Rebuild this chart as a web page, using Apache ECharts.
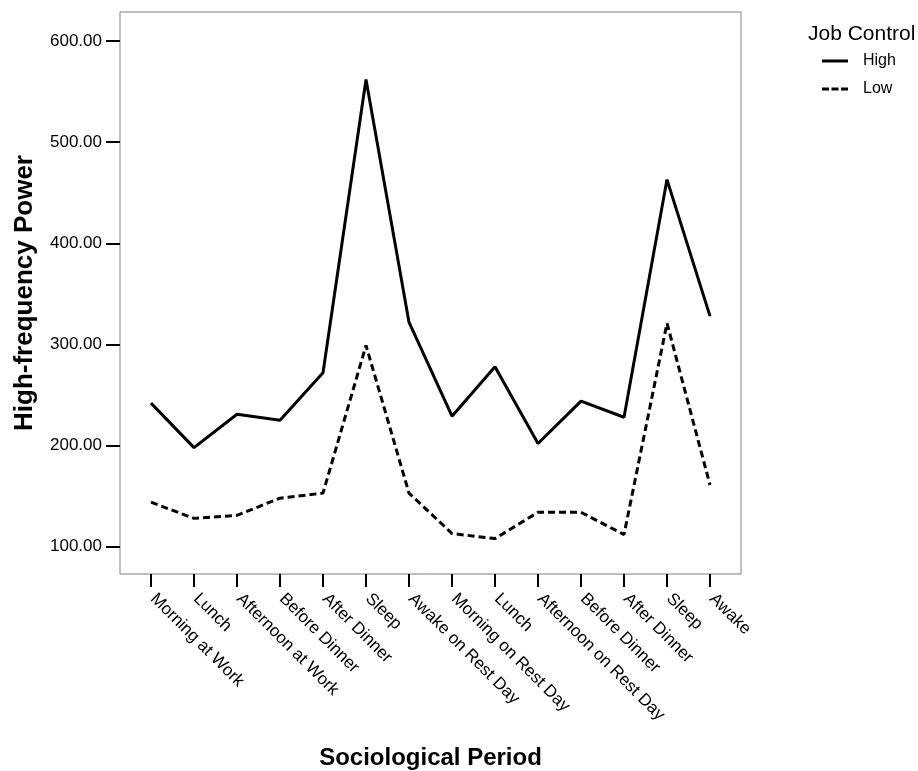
<!DOCTYPE html>
<html>
<head>
<meta charset="utf-8">
<script src="https://cdn.jsdelivr.net/npm/echarts@6/dist/echarts.min.js"></script>
<style>
html,body{margin:0;padding:0;background:#fff;}
#chart{width:918px;height:771px;}
</style>
</head>
<body>
<div id="chart"></div>
<script>
const categories = ['Morning at Work','Lunch','Afternoon at Work','Before Dinner','After Dinner','Sleep','Awake on Rest Day','Morning on Rest Day','Lunch','Afternoon on Rest Day','Before Dinner','After Dinner','Sleep','Awake'];
const highValues = [242, 198, 231, 225, 272, 562, 322, 229, 278, 202, 244, 228, 463, 328];
const lowValues = [144, 128, 131, 148, 153, 299, 153, 113, 108, 134, 134, 112, 321, 161];
const yTicks = [100, 200, 300, 400, 500, 600];
const seriesNames = ['High', 'Low'];

const FONT = '"Liberation Sans", Arial, sans-serif';
const yMin = 73, yMax = 628.7;

const chart = echarts.init(document.getElementById('chart'), null, {renderer: 'canvas'});
chart.setOption({
  animation: false,
  backgroundColor: '#ffffff',
  title: {
    text: 'Job Control',
    left: 808, top: 24, padding: 0,
    textStyle: {fontFamily: FONT, fontSize: 21, fontWeight: 'normal', color: '#000'}
  },
  legend: {
    data: [
      {name: seriesNames[0], icon: 'path://M0,0h26v3h-26z'},
      {name: seriesNames[1], icon: 'path://M0,0h7v3h-7z M9.5,0h7v3h-7z M19,0h7v3h-7z'}
    ],
    orient: 'vertical',
    left: 822, top: 53,
    itemWidth: 26, itemHeight: 3, itemGap: 12,
    padding: 0,
    itemStyle: {color: '#000'},
    textStyle: {fontFamily: FONT, fontSize: 16, color: '#000', padding: [0,0,0,10], lineHeight: 14}
  },
  grid: [
    {left: 120, top: 12, width: 621, height: 562, show: true, borderColor: '#808080', borderWidth: 1, backgroundColor: 'transparent', outerBoundsMode: 'none', containLabel: false},
    {left: 151, top: 12, width: 559, height: 562, show: false, outerBoundsMode: 'none', containLabel: false}
  ],
  xAxis: [
    {type: 'value', gridIndex: 0, show: false, min: 0, max: 1},
    {
      type: 'category', gridIndex: 1, data: categories, boundaryGap: false,
      axisLine: {show: false},
      axisTick: {show: true, length: 13, lineStyle: {color: '#000', width: 2}},
      axisLabel: {rotate: -45, margin: 20, interval: 0, fontFamily: FONT, fontSize: 17, color: '#000', padding: [0,0,0,3]},
      splitLine: {show: false},
      name: 'Sociological Period', nameLocation: 'middle', nameGap: 172,
      nameTextStyle: {fontFamily: FONT, fontSize: 24, fontWeight: 'bold', color: '#000'}
    }
  ],
  yAxis: [
    {
      type: 'value', gridIndex: 0, min: yMin, max: yMax,
      axisLine: {show: false},
      axisTick: {show: true, length: 14, customValues: yTicks, lineStyle: {color: '#000', width: 2}},
      axisLabel: {customValues: yTicks, margin: 18, fontFamily: FONT, fontSize: 17, color: '#000',
        formatter: v => Number(v).toFixed(2)},
      splitLine: {show: false},
      name: 'High-frequency Power', nameLocation: 'middle', nameRotate: 90, nameGap: 82,
      nameTextStyle: {fontFamily: FONT, fontSize: 26, fontWeight: 'bold', color: '#000'}
    },
    {type: 'value', gridIndex: 1, min: yMin, max: yMax, show: false, splitLine: {show: false}}
  ],
  series: [
    {
      name: seriesNames[0], type: 'line', xAxisIndex: 1, yAxisIndex: 1,
      data: highValues, symbol: 'none', showSymbol: false,
      lineStyle: {color: '#000', width: 3, type: 'solid'},
      itemStyle: {color: '#000'}
    },
    {
      name: seriesNames[1], type: 'line', xAxisIndex: 1, yAxisIndex: 1,
      data: lowValues, symbol: 'none', showSymbol: false,
      lineStyle: {color: '#000', width: 3, type: [7, 4]},
      itemStyle: {color: '#000'}
    }
  ]
});
</script>
</body>
</html>
